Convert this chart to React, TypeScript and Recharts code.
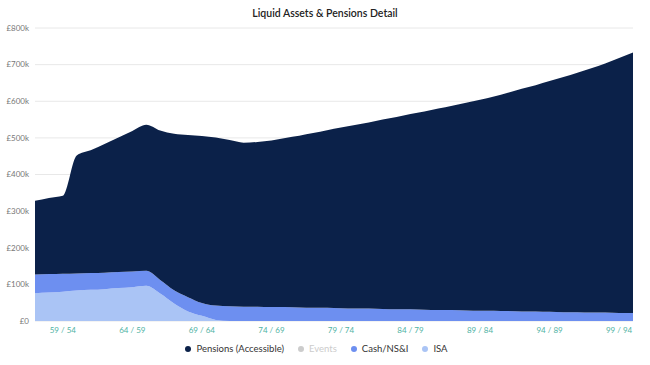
import React from "react"
import { AreaChart, Area, XAxis, YAxis, CartesianGrid, Legend } from "recharts"

// ages of the two people, one point per year
const ages = [57, 58, 59, 60, 61, 62, 63, 64, 65, 66, 67, 68, 69, 70, 71, 72, 73, 74, 75, 76, 77, 78, 79, 80, 81, 82, 83, 84, 85, 86, 87, 88, 89, 90, 91, 92, 93, 94, 95, 96, 97, 98, 99, 100]
const tickAges = [59, 64, 69, 74, 79, 84, 89, 94, 99]

// values in £k
const isa = [76, 78, 80, 83, 85, 87, 90, 92, 96, 75, 48, 26, 14, 3, 0, 0, 0, 0, 0, 0, 0, 0, 0, 0, 0, 0, 0, 0, 0, 0, 0, 0, 0, 0, 0, 0, 0, 0, 0, 0, 0, 0, 0, 0]
const cash = [51, 50, 49, 47, 46, 45, 44, 43, 41, 37, 36, 39, 35, 39, 40, 39, 39, 38, 38, 37, 36, 36, 35, 34, 34, 33, 32, 32, 31, 30, 30, 29, 28, 28, 27, 26, 26, 25, 24, 24, 23, 23, 22, 22]
const events = ages.map(() => 0)
const pensions = [201, 208, 213, 322, 335, 351, 367, 384, 399, 408, 427, 443, 456, 459, 454, 448, 450, 455, 462, 469, 477, 485, 493, 501, 508, 517, 525, 533, 541, 550, 558, 567, 576, 585, 596, 608, 618, 630, 642, 654, 667, 680, 696, 711]

const yTicks = [0, 100000, 200000, 300000, 400000, 500000, 600000, 700000, 800000]

const label = (a: number) => `${a} / ${a - 5}`

const data = ages.map((a, i) => ({
    label: label(a),
    isa: isa[i] * 1000,
    cash: cash[i] * 1000,
    events: events[i],
    pensions: pensions[i] * 1000,
}))

const colors = {
    pensions: "#0b2149",
    events: "#cccccc",
    cash: "#6d8ff0",
    isa: "#aac4f5",
}

const legendItems = [
    { name: "Pensions (Accessible)", color: colors.pensions, hidden: false },
    { name: "Events", color: colors.events, hidden: true },
    { name: "Cash/NS&I", color: colors.cash, hidden: false },
    { name: "ISA", color: colors.isa, hidden: false },
]

function LegendContent() {
    return (
        <div style={{ display: "flex", justifyContent: "center", gap: 14, paddingTop: 8, fontSize: 9.5, fontFamily: "Lato, sans-serif" }}>
            {legendItems.map((it) => (
                <div key={it.name} style={{ display: "flex", alignItems: "center", gap: 5, color: it.hidden ? "#cccccc" : "#333333" }}>
                    <span style={{ width: 6, height: 6, borderRadius: "50%", background: it.color, display: "inline-block" }} />
                    {it.name}
                </div>
            ))}
        </div>
    )
}

const fmt = (v: number) => (v === 0 ? "£0" : `£${v / 1000}k`)

export default function App() {
    return (
        <div style={{ position: "absolute", left: 0, top: 0, width: 650, height: 365, background: "#fff", fontFamily: "Lato, sans-serif" }}>
            <div style={{ position: "absolute", top: 7, width: 650, textAlign: "center", fontSize: 10.5, fontWeight: 600, color: "#222" }}>
                Liquid Assets &amp; Pensions Detail
            </div>
            <AreaChart width={650} height={365} data={data} margin={{ top: 28, right: 17, bottom: 10, left: 0 }}>
                <CartesianGrid vertical={false} stroke="#e8e8e8" />
                <XAxis
                    dataKey="label"
                    ticks={tickAges.map(label)}
                    axisLine={false}
                    tickLine={false}
                    tickSize={0}
                    tickMargin={6}
                    height={14}
                    tick={{ fontSize: 8, fill: "#4fb3a4" }}
                />
                <YAxis
                    domain={[0, 800000]}
                    ticks={yTicks}
                    tickFormatter={fmt}
                    axisLine={false}
                    tickLine={false}
                    tickSize={0}
                    tickMargin={6}
                    width={35}
                    tick={{ fontSize: 8, fill: "#777" }}
                />
                <Legend verticalAlign="bottom" height={20} content={<LegendContent />} />
                <Area type="monotone" dataKey="isa" stackId="a" stroke={colors.isa} strokeWidth={0} fill={colors.isa} fillOpacity={1} isAnimationActive={false} />
                <Area type="monotone" dataKey="cash" stackId="a" stroke={colors.cash} strokeWidth={0} fill={colors.cash} fillOpacity={1} isAnimationActive={false} />
                <Area type="monotone" dataKey="events" stackId="a" stroke="none" strokeWidth={0} fill={colors.events} fillOpacity={0} isAnimationActive={false} />
                <Area type="monotone" dataKey="pensions" stackId="a" stroke={colors.pensions} strokeWidth={0} fill={colors.pensions} fillOpacity={1} isAnimationActive={false} />
            </AreaChart>
        </div>
    )
}
